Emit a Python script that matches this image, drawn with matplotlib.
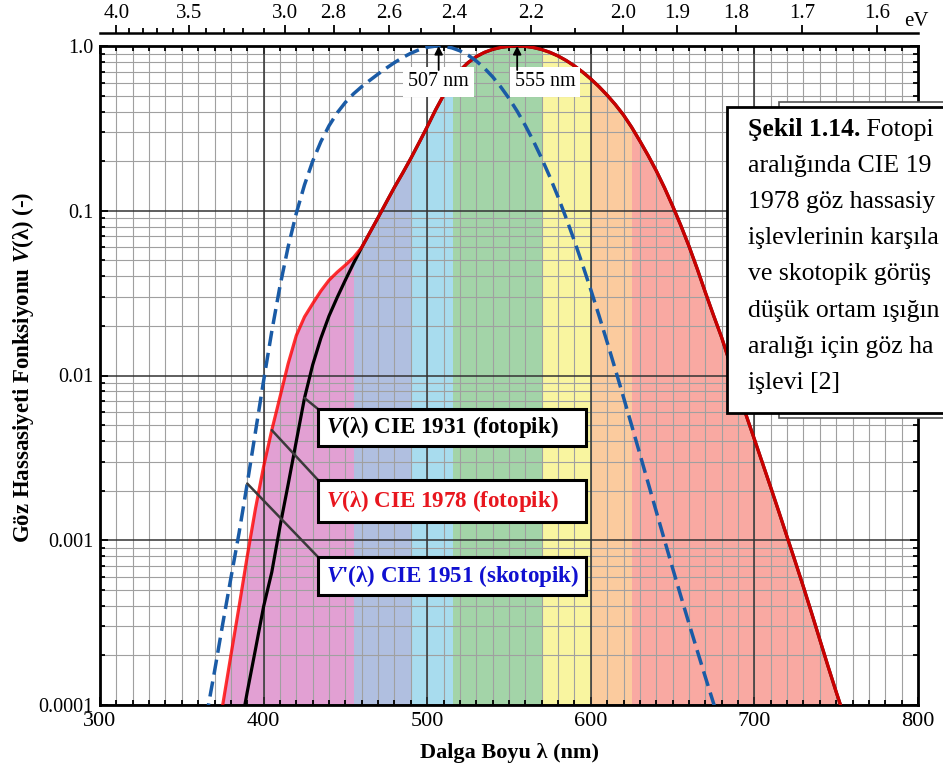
import numpy as np
import matplotlib
matplotlib.use("Agg")
import matplotlib.pyplot as plt
from matplotlib.patches import Rectangle, PathPatch
from matplotlib.ticker import MultipleLocator, FixedLocator, NullFormatter

plt.rcParams['font.family'] = ['Liberation Serif', 'DejaVu Serif']
plt.rcParams['mathtext.fontset'] = 'custom'
plt.rcParams['mathtext.it'] = 'Liberation Serif:italic:bold'
plt.rcParams['mathtext.rm'] = 'Liberation Serif:bold'
plt.rcParams['mathtext.bf'] = 'Liberation Serif:bold'

# ---------------- data ----------------
wl_photopic = list(range(380, 785, 5))
v_cie1931 = [3.9e-5, 6.4e-5, 1.2e-4, 2.17e-4, 3.96e-4, 6.4e-4, 1.21e-3, 2.18e-3, 4.0e-3, 7.3e-3,
             1.16e-2, 1.684e-2, 2.3e-2, 2.98e-2, 3.8e-2, 4.8e-2, 6.0e-2, 7.39e-2, 9.098e-2, 0.1126,
             0.13902, 0.1693, 0.20802, 0.2586, 0.323, 0.4073, 0.503, 0.6082, 0.71, 0.7932,
             0.862, 0.91485, 0.954, 0.9803, 0.99495, 1.0, 0.995, 0.9786, 0.952, 0.9154,
             0.87, 0.8163, 0.757, 0.6949, 0.631, 0.5668, 0.503, 0.4412, 0.381, 0.321,
             0.265, 0.217, 0.175, 0.1382, 0.107, 0.0816, 0.061, 0.04458, 0.032, 0.0232,
             0.017, 0.01192, 8.21e-3, 5.723e-3, 4.102e-3, 2.929e-3, 2.091e-3, 1.484e-3, 1.047e-3, 7.4e-4,
             5.2e-4, 3.61e-4, 2.49e-4, 1.72e-4, 1.2e-4, 8.48e-5, 6.0e-5, 4.24e-5, 3.0e-5, 2.12e-5,
             1.5e-5]

# CIE 1978 (Judd-Vos) differs only in the blue region; above 460 nm it equals CIE 1931
wl_1978_blue = list(range(370, 460, 5))
v_cie1978_blue = [5.0e-5, 1.0e-4, 2.0e-4, 3.96e-4, 8.0e-4, 1.55e-3, 2.8e-3, 4.66e-3, 7.4e-3, 1.18e-2,
                  1.75e-2, 2.27e-2, 2.73e-2, 3.26e-2, 3.79e-2, 4.24e-2, 4.68e-2, 5.21e-2]
i460 = wl_photopic.index(460)
wl_1978 = wl_1978_blue + wl_photopic[i460:]
v_cie1978 = v_cie1978_blue + v_cie1931[i460:]

wl_scotopic = list(range(360, 695, 5))
v_cie1951 = [4.5e-5, 8.5e-5, 1.6e-4, 3.1e-4,
             5.89e-4, 1.108e-3, 2.209e-3, 4.53e-3, 9.29e-3, 1.852e-2, 3.484e-2, 6.04e-2, 9.66e-2, 0.1436,
             0.1998, 0.2625, 0.3281, 0.3931, 0.455, 0.513, 0.567, 0.62, 0.676, 0.734,
             0.793, 0.851, 0.904, 0.949, 0.982, 0.998, 0.997, 0.975, 0.935, 0.88,
             0.811, 0.733, 0.65, 0.564, 0.481, 0.402, 0.3288, 0.2639, 0.2076, 0.1602,
             0.1212, 0.0899, 0.0655, 0.0469, 0.03315, 0.02312, 0.01593, 0.01088, 7.37e-3, 4.97e-3,
             3.335e-3, 2.235e-3, 1.497e-3, 1.005e-3, 6.77e-4, 4.59e-4, 3.129e-4, 2.146e-4, 1.48e-4, 1.026e-4,
             7.15e-5, 5.01e-5, 3.533e-5]

band_edges = [360, 455, 490, 516, 571, 600, 625, 790]
band_colors = ['#E2A0D3', '#B0BFE0', '#A8DCEE', '#A3D4A8', '#F9F5A0', '#FBCB9E', '#F9A9A2']

peak_scotopic = 507
peak_photopic = 555

ytick_vals = [1e-4, 1e-3, 1e-2, 1e-1, 1.0]
ytick_labels = ['0.0001', '0.001', '0.01', '0.1', '1.0']

HC = 1239.84  # nm*eV
ev_major = [4.0, 3.5, 3.0, 2.8, 2.6, 2.4, 2.2, 2.0, 1.9, 1.8, 1.7, 1.6]
ev_major_labels = ['4.0', '3.5', '3.0', '2.8', '2.6', '2.4', '2.2', '2.0', '1.9', '1.8', '1.7', '1.6']
ev_minor = [3.9, 3.8, 3.7, 3.6, 3.4, 3.3, 3.2, 3.1, 2.9, 2.7, 2.5, 2.3, 2.1]

label_1931 = r'$V$(λ) CIE 1931 (fotopik)'
label_1978 = r'$V$(λ) CIE 1978 (fotopik)'
label_1951 = r"$V$'(λ) CIE 1951 (skotopik)"

caption_bold = 'Şekil 1.14.'
caption_lines = [' Fotopik görüş',
                 'aralığında CIE 1931 ve CIE',
                 '1978 göz hassasiyet',
                 'işlevlerinin karşılaştırılması',
                 've skotopik görüş (çok',
                 'düşük ortam ışığında)',
                 'aralığı için göz hassasiyet',
                 'işlevi [2]']

# ---------------- figure ----------------
W, H = 943, 771
fig = plt.figure(figsize=(W / 100, H / 100), dpi=100)
ax_l, ax_t, ax_r, ax_b = 100, 46, 918, 705
ax = fig.add_axes([ax_l / W, 1 - ax_b / H, (ax_r - ax_l) / W, (ax_b - ax_t) / H])
ax.set_yscale('log')
ax.set_xlim(300, 800)
ax.set_ylim(1e-4, 1.0)

# spectral bands clipped under CIE 1978 curve
poly = ax.fill_between(wl_1978, v_cie1978, 1e-6, facecolor='none', edgecolor='none', lw=0)
clip = PathPatch(poly.get_paths()[0], transform=ax.transData, facecolor='none', edgecolor='none')
for lo, hi, c in zip(band_edges[:-1], band_edges[1:], band_colors):
    r = ax.axvspan(lo, hi, color=c, lw=0, zorder=1)
    r.set_clip_path(clip)

# grid
ax.xaxis.set_major_locator(MultipleLocator(100))
ax.xaxis.set_minor_locator(MultipleLocator(10))
ax.xaxis.grid(True, which='both', color='#a0a0a0', lw=0.8, zorder=1.5)
for xv in ax.get_xticks():
    if 300 < xv < 800:
        ax.axvline(xv, color='#333333', lw=1.1, zorder=1.6)
ax.yaxis.set_major_locator(FixedLocator(ytick_vals))
ax.set_yticklabels(ytick_labels)
ax.yaxis.set_minor_locator(FixedLocator([m * 10.0 ** e for e in range(-4, 0) for m in range(2, 10)]))
ax.yaxis.set_minor_formatter(NullFormatter())
ax.yaxis.grid(True, which='major', color='#333333', lw=1.1)
ax.yaxis.grid(True, which='minor', color='#a0a0a0', lw=0.8)
ax.set_axisbelow('line')

# curves
ax.plot(wl_photopic, v_cie1931, color='black', lw=2.3, zorder=3, solid_capstyle='round')
ax.plot(wl_1978, v_cie1978, color='red', lw=2.3, alpha=0.8, zorder=3.2)
ax.plot(wl_scotopic, v_cie1951, color='#1A5BA6', lw=2.5, ls=(0, (4.4, 2.0)), zorder=3.4)

# ticks
ax.tick_params(which='both', direction='in', top=True, right=True, width=1.3)
ax.tick_params(which='major', length=6)
ax.tick_params(which='minor', length=3.5)
ax.tick_params(axis='x', labelsize=16, pad=5)
ax.tick_params(axis='y', labelsize=14.5, pad=5)
for s in ax.spines.values():
    s.set_linewidth(2.0)

ax.set_xlabel('Dalga Boyu λ (nm)', fontsize=16, fontweight='bold', labelpad=9)
ax.set_ylabel(r'Göz Hassasiyeti Fonksiyonu $V$(λ) (-)', fontsize=16.5, fontweight='bold')
ax.yaxis.set_label_coords((36 - ax_l) / (ax_r - ax_l), 1 - (367 - ax_t) / (ax_b - ax_t))

# top eV axis
def nm_to_ev(x):
    x = np.asarray(x, dtype=float)
    with np.errstate(divide='ignore', invalid='ignore'):
        return HC / x

secax = ax.secondary_xaxis(1 + 13 / (ax_b - ax_t), functions=(nm_to_ev, nm_to_ev))
secax.set_xticks(ev_major, ev_major_labels)
secax.xaxis.set_minor_locator(FixedLocator(ev_minor))
secax.tick_params(which='both', direction='out', width=1.3, labelsize=15, pad=1)
secax.tick_params(which='major', length=6)
secax.tick_params(which='minor', length=3.5)
secax.spines['top'].set_linewidth(1.8)
fig.text(904 / W, 1 - 21 / H, 'eV', fontsize=15, ha='left', va='center')

# peak markers
ytxt = 1 - (82 - ax_t) / (ax_b - ax_t)
yarr = 1 - (70 - ax_t) / (ax_b - ax_t)
for pk, ha, dx in [(peak_scotopic, 'center', 0), (peak_photopic, 'left', -1.5)]:
    ax.annotate('', xy=(pk, 1.0), xycoords='data', xytext=(pk, yarr),
                textcoords=('data', 'axes fraction'),
                arrowprops=dict(arrowstyle='-|>', color='black', lw=1.3, mutation_scale=12,
                                shrinkA=0, shrinkB=0), zorder=6)
    ax.text(pk + dx, ytxt, f'{pk} nm', transform=ax.get_xaxis_transform(), ha=ha, va='center',
            fontsize=14.5, zorder=5,
            bbox=dict(boxstyle='square,pad=0.25', facecolor='white', edgecolor='none'))

# curve label boxes with leader lines
box_x0 = (318 - ax_l) / (ax_r - ax_l)
box_w = (586 - 318) / (ax_r - ax_l)
boxes = [(409, 446, label_1931, 'black', wl_photopic, v_cie1931, 425),
         (480, 522, label_1978, '#E8161E', wl_1978, v_cie1978, 405),
         (557, 595, label_1951, '#1010D0', wl_scotopic, v_cie1951, 390)]
for top, bot, txt, col, wls, vals, wl_pt in boxes:
    yt = 1 - (top - ax_t) / (ax_b - ax_t)
    yb = 1 - (bot - ax_t) / (ax_b - ax_t)
    ax.annotate('', xy=(wl_pt, vals[wls.index(wl_pt)]), xycoords='data',
                xytext=(box_x0, yt), textcoords='axes fraction',
                arrowprops=dict(arrowstyle='-', color='#3a3a3a', lw=1.8, shrinkA=0, shrinkB=0),
                zorder=5)
    ax.add_patch(Rectangle((box_x0, yb), box_w, yt - yb, transform=ax.transAxes,
                           facecolor='white', edgecolor='black', lw=2.2, zorder=6))
    ax.text(box_x0 + 8 / (ax_r - ax_l), (yt + yb) / 2, txt, transform=ax.transAxes,
            ha='left', va='center', fontsize=16.6, fontweight='bold', color=col, zorder=7)

# caption box (partly outside the figure, as in the original page crop)
fig.add_artist(Rectangle((779 / W, 1 - 418 / H), 0.5, (418 - 102) / H, transform=fig.transFigure,
                         facecolor='white', edgecolor='#555555', lw=1.2, zorder=10))
fig.add_artist(Rectangle((727 / W, 1 - 413 / H), 0.5, (413 - 107) / H, transform=fig.transFigure,
                         facecolor='white', edgecolor='black', lw=2.0, zorder=11))
x0 = 748 / W
base0 = 136
step = 36.1
cap_fs = 18.5
fig.canvas.draw()
renderer = fig.canvas.get_renderer()


def fit_text(x, y, s, **kw):
    """Place text, trimming trailing characters that would run past the figure edge."""
    t = fig.text(x, y, s, **kw)
    while s and t.get_window_extent(renderer=renderer).x1 > W - 2:
        s = s[:-1]
        t.set_text(s)
    return t


tb = fig.text(x0, 1 - base0 / H, caption_bold, fontsize=cap_fs, fontweight='bold',
              ha='left', va='baseline', zorder=12)
bb = tb.get_window_extent(renderer=renderer)
fit_text(bb.x1 / W, 1 - base0 / H, caption_lines[0], fontsize=cap_fs, ha='left',
         va='baseline', zorder=12)
for i, line in enumerate(caption_lines[1:], start=1):
    fit_text(x0, 1 - (base0 + i * step) / H, line, fontsize=cap_fs, ha='left',
             va='baseline', zorder=12)

fig.savefig('out.png', dpi=100)
